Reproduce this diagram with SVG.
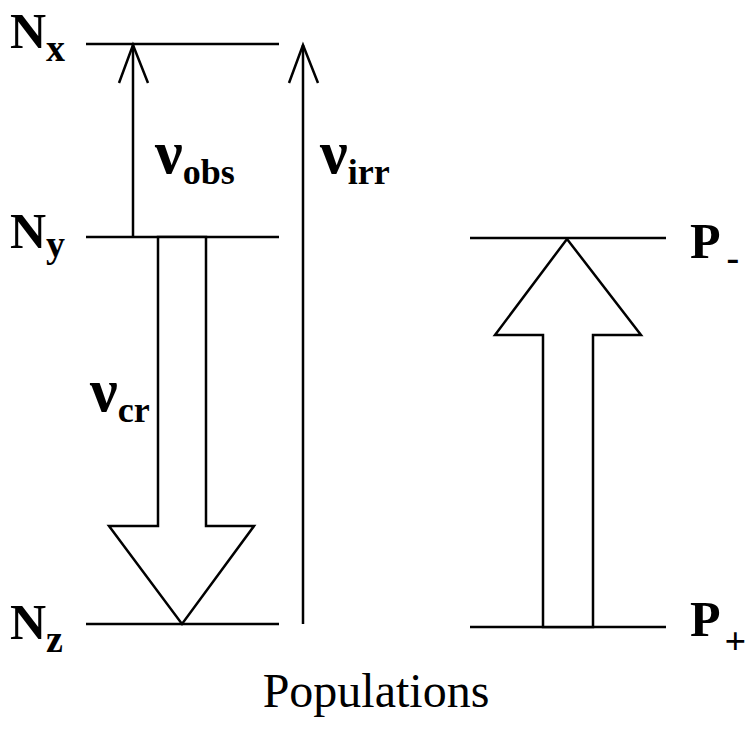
<svg xmlns="http://www.w3.org/2000/svg" width="745" height="736" viewBox="0 0 745 736">
<style>
.ln{stroke:#000;stroke-width:2.5;fill:none}
.big{stroke:#000;stroke-width:2.5;fill:#fff;stroke-linejoin:miter}
.t{font-family:"Liberation Serif","Times New Roman",serif;fill:#000}
.lab{font-size:50px;font-weight:bold}
.sub{font-size:38px;font-weight:bold}
.nu{font-size:62px;font-weight:bold}
.nsub{font-size:36px;font-weight:bold}
</style>
<rect width="745" height="736" fill="#fff"/>
<g id="level-Nx"><line class="ln" x1="86" y1="44" x2="279" y2="44"/>
<text class="t lab" x="10" y="48">N<tspan class="sub" dy="13">x</tspan></text></g>
<g id="level-Ny"><line class="ln" x1="86" y1="237" x2="279" y2="237"/>
<text class="t lab" x="10" y="248">N<tspan class="sub" dy="9">y</tspan></text></g>
<g id="level-Nz"><line class="ln" x1="86" y1="624" x2="279" y2="624"/>
<text class="t lab" x="10" y="639">N<tspan class="sub" dy="13">z</tspan></text></g>
<g id="level-Pminus"><line class="ln" x1="470" y1="238" x2="666" y2="238"/>
<text class="t lab" x="690" y="258">P<tspan class="sub" dx="6" dy="12">-</tspan></text></g>
<g id="level-Pplus"><line class="ln" x1="470" y1="627" x2="666" y2="627"/>
<text class="t lab" x="690" y="636">P<tspan class="sub" dx="4" dy="18">+</tspan></text></g>
<g id="connectors">
<g id="obs"><line class="ln" x1="133" y1="237" x2="133" y2="45"/><polyline class="ln" points="119,83 133,45 148,83"/></g>
<g id="irr"><line class="ln" x1="303" y1="624" x2="303" y2="45"/><polyline class="ln" points="289,83 303,45 318,83"/></g>
<polygon id="cr" class="big" points="158,237 206,237 206,526 254,526 182,624 109,526 158,526"/>
<polygon id="pump" class="big" points="543,627 593,627 593,335 641,335 567,239 495,335 543,335"/>
</g>
<text class="t nu" x="155" y="173">ν<tspan class="nsub" dy="11">obs</tspan></text>
<text class="t nu" x="320" y="173">ν<tspan class="nsub" dy="11">irr</tspan></text>
<text class="t nu" x="90" y="411">ν<tspan class="nsub" dy="11">cr</tspan></text>
<text class="t" x="376" y="707" font-size="48" text-anchor="middle">Populations</text>
</svg>
